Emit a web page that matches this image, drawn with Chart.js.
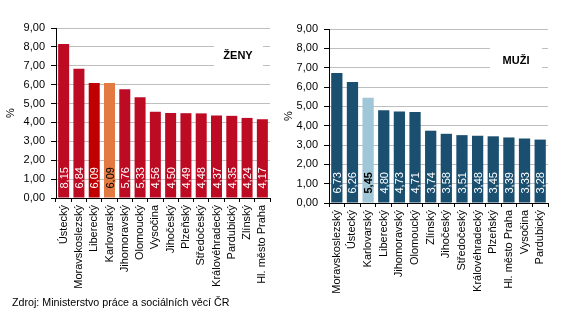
<!DOCTYPE html>
<html lang="cs">
<head>
<meta charset="UTF-8">
<title>Ženy a muži</title>
<script src="https://cdn.jsdelivr.net/npm/chart.js"></script>
<style>
    body { margin: 0; background: #fff; font-family: Arial, "Liberation Sans", sans-serif; }
    #wrap { position: relative; width: 561px; height: 321px; overflow: hidden; }
    #left { position: absolute; left: 0; top: 0; }
    #right { position: absolute; left: 280px; top: 0; }
    #source { position: absolute; left: 12px; top: 296px; font-size: 10.7px; color: #000; }
</style>
</head>
<body>
<div id="wrap">
    <canvas id="left" width="280" height="300"></canvas>
    <canvas id="right" width="281" height="300"></canvas>
    <div id="source">Zdroj: Ministerstvo práce a sociálních věcí ČR</div>
</div>

<script>
// ženy
const womenLabels = ['Ústecký', 'Moravskoslezský', 'Liberecký', 'Karlovarský', 'Jihomoravský', 'Olomoucký', 'Vysočina',
    'Jihočeský', 'Plzeňský', 'Středočeský', 'Královéhradecký', 'Pardubický', 'Zlínský', 'Hl. město Praha'];
const womenValues = [8.15, 6.84, 6.09, 6.09, 5.76, 5.33, 4.56, 4.50, 4.49, 4.48, 4.37, 4.35, 4.24, 4.17];

// muži
const menLabels = ['Moravskoslezský', 'Ústecký', 'Karlovarský', 'Liberecký', 'Jihomoravský', 'Olomoucký', 'Zlínský',
    'Jihočeský', 'Středočeský', 'Královéhradecký', 'Plzeňský', 'Hl. město Praha', 'Vysočina', 'Pardubický'];
const menValues = [6.73, 6.26, 5.45, 4.80, 4.73, 4.71, 3.74, 3.58, 3.51, 3.48, 3.45, 3.39, 3.33, 3.28];

const yTicks = [0, 1, 2, 3, 4, 5, 6, 7, 8, 9];

const FONT = 'Arial, "Liberation Sans", sans-serif';

function fmt(v) {
    return v.toFixed(2).replace('.', ',');
}

// barvy sloupců
const womenColors = womenLabels.map(l => l === 'Karlovarský' ? '#E27A42' : (l === 'Liberecký' ? '#C00000' : '#BE0B24'));
const menColors = menLabels.map(l => l === 'Karlovarský' ? '#A0C7D7' : '#1A4F70');

// popisky hodnot uvnitř sloupců + nadpis v rámečku
const labelsPlugin = {
    id: 'barLabels',
    beforeDatasetsDraw(chart, args, opts) {
        const ctx = chart.ctx;
        ctx.save();
        ctx.fillStyle = '#fff';
        ctx.fillRect(opts.box[0], opts.box[1], opts.box[2], opts.box[3]);
        ctx.fillStyle = '#000';
        ctx.font = 'bold 11px ' + FONT;
        ctx.textAlign = 'center';
        ctx.textBaseline = 'middle';
        ctx.fillText(opts.title, opts.titlePos[0], opts.titlePos[1]);
        ctx.restore();
    },
    afterDatasetsDraw(chart, args, opts) {
        const ctx = chart.ctx;
        const meta = chart.getDatasetMeta(0);
        const data = chart.data.datasets[0].data;
        const labels = chart.data.labels;
        meta.data.forEach((bar, i) => {
            const special = labels[i] === 'Karlovarský';
            ctx.save();
            ctx.translate(bar.x, bar.base - 9);
            ctx.rotate(-Math.PI / 2);
            ctx.font = (special && opts.boldSpecial ? 'bold ' : '') + '11px ' + FONT;
            ctx.fillStyle = special ? '#000' : '#fff';
            ctx.textAlign = 'left';
            ctx.textBaseline = 'middle';
            ctx.fillText(fmt(data[i]), 0, 1);
            ctx.restore();
        });
    }
};

function makeChart(id, labels, values, colors, cfg) {
    return new Chart(document.getElementById(id), {
        type: 'bar',
        data: {
            labels: labels,
            datasets: [{
                data: values,
                backgroundColor: colors,
                barPercentage: 0.72,
                categoryPercentage: 1
            }]
        },
        options: {
            responsive: false,
            animation: false,
            layout: { padding: { left: cfg.left, top: cfg.top, right: cfg.right, bottom: 0 } },
            plugins: {
                legend: { display: false },
                tooltip: { enabled: false },
                barLabels: { title: cfg.title, titlePos: cfg.titlePos, box: cfg.box, boldSpecial: cfg.boldSpecial }
            },
            scales: {
                x: {
                    grid: { display: true, drawOnChartArea: false, offset: true, tickLength: 4, color: '#000' },
                    border: { color: '#000' },
                    ticks: {
                        autoSkip: false, maxRotation: 90, minRotation: 90, padding: 3,
                        color: '#000', font: { family: FONT, size: 11 }
                    },
                    afterFit: s => { s.height = cfg.xHeight; }
                },
                y: {
                    min: 0, max: 9,
                    afterBuildTicks: s => { s.ticks = yTicks.map(v => ({ value: v })); },
                    grid: { color: '#BEBEBE', tickColor: '#000', tickLength: 5 },
                    border: { color: '#000' },
                    ticks: {
                        padding: 6, color: '#000', font: { family: FONT, size: 11 },
                        callback: v => fmt(v)
                    },
                    title: {
                        display: true, text: '%', color: '#000', padding: { top: 0, bottom: 0 },
                        font: { family: FONT, size: 11 }
                    },
                    afterFit: s => { s.width = cfg.yWidth; }
                }
            }
        },
        plugins: [labelsPlugin]
    });
}

makeChart('left', womenLabels, womenValues, womenColors, {
    left: 4, top: 28, right: 10, xHeight: 102, yWidth: 52, title: 'ŽENY',
    titlePos: [238, 56], box: [214, 43, 49, 26], boldSpecial: false
});

makeChart('right', menLabels, menValues, menColors, {
    left: 2, top: 29, right: 13, xHeight: 97, yWidth: 47, title: 'MUŽI',
    titlePos: [236, 61], box: [210, 47, 52, 26], boldSpecial: true
});
</script>
</body>
</html>
